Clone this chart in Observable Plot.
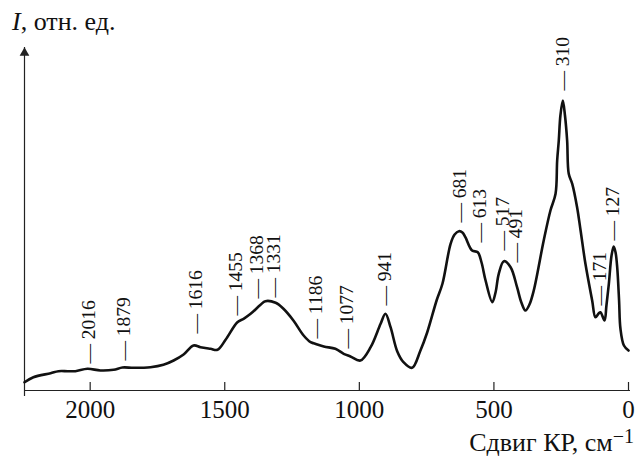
<!DOCTYPE html>
<html><head><meta charset="utf-8">
<script src="https://cdn.jsdelivr.net/npm/d3@7"></script>
<script src="https://cdn.jsdelivr.net/npm/@observablehq/plot@0.6"></script>
<style>body{margin:0;background:#fff;} svg{display:block}</style>
</head><body><div id="chart"></div>
<script>
// Raman shift (cm-1) and relative intensity
const shift = [2244,2211,2147,2118,2084,2055,2010,1962,1913,1880,1839,1776,1728,1690,1653,1616,1590,1553,1527,1497,1453,1430,1404,1367,1349,1311,1282,1245,1207,1181,1170,1132,1089,1058,1033,996,958,921,903,884,859,836,804,773,748,713,691,661,646,630,617,606,581,560,546,531,506,494,482,463,438,414,398,383,368,352,315,290,271,265,259,253,244,236,228,222,209,191,178,160,135,123,111,104,89,82,73,63,55,48,42,35,30,17,0];
const intensity = [8.3,13.3,17.3,19.3,19.3,19.3,21.7,20,20.7,23,22.7,23.3,25.7,30,36,45,43.3,41.7,40.7,50.7,68.3,71.7,76.7,85.7,89.3,87.7,81.7,70,55,48.3,47.3,44,41.7,36.7,34,30,43.3,66.7,76.7,63.3,39,28.3,22.7,40,58,90,107,146.7,156,159.3,158,153.3,140,138.3,128,110,88.3,98,116.7,129.3,123.3,103.3,88,80,86,100,150,180,196.7,230,250,275,290,275,250,216.7,206.7,183.3,160,126.7,90,73.3,77,78.3,70,85,106.7,135,144,138,123.3,90,62,45,40];

// Peak annotations: position on the axis, height of the label base, label text
const peakShift = [2006,1877,1609,1460,1382,1318,1163,1045,905,627,554,469,420,243,107,58];
const peakLevel = [27,30,57,75,92,93,52,42,85,168,148,140,128,300,85,150];
const peakLabels = ["2016","1879","1616","1455","1368","1331","1186","1077","941","681","613","517","491","310","171","127"];

const xTicks = [2000,1500,1000,500,0];
const xDomain = [2244, 0];
const yDomain = [0, 343];
const xTitle = "Сдвиг КР, см";
const xTitleSup = "−1";
const yTitleItalic = "I";
const yTitleRest = ", отн. ед.";

const font = "'Liberation Serif','Times New Roman',serif";
const spectrum = shift.map((s, i) => ({s, v: intensity[i]}));
const peaks = peakShift.map((s, i) => ({s, v: peakLevel[i], t: "— " + peakLabels[i]}));

const chart = Plot.plot({
  width: 636, height: 458,
  marginLeft: 24, marginRight: 8, marginTop: 47, marginBottom: 68,
  style: {fontFamily: font, background: "#fff", color: "#111", overflow: "visible"},
  x: {domain: xDomain, axis: null},
  y: {domain: yDomain, axis: null},
  marks: [
    Plot.ruleY([0], {stroke: "#222", strokeWidth: 1.2, insetRight: -2}),
    Plot.ruleX(xTicks, {x: d => d, y1: 0, y2: 0, insetTop: -8, stroke: "#222", strokeWidth: 1.2}),
    Plot.axisX(xTicks, {anchor: "bottom", tickSize: 0, tickPadding: 10, fontSize: 25, label: null, tickFormat: d => String(d), fill: "#111"}),
    Plot.ruleX([xDomain[0]], {y1: 0, y2: yDomain[1], insetTop: 6, stroke: "#222", strokeWidth: 1.2}),
    Plot.dot([{s: xDomain[0], v: yDomain[1]}], {x: "s", y: "v", symbol: "triangle", r: 3.6, fill: "#222", stroke: null, dy: 5.4}),
    Plot.line(spectrum, {x: "s", y: "v", stroke: "#111", strokeWidth: 2.6, curve: "catmull-rom", strokeLinejoin: "round"}),
    Plot.text(peaks, {x: "s", y: "v", text: "t", rotate: -90, textAnchor: "start", fontSize: 19.5, fill: "#111"})
  ]
});

const svg = d3.select(chart);
const xt = svg.append("text").attr("x", 634).attr("y", 451).attr("text-anchor", "end")
  .attr("font-family", font).attr("font-size", 26).attr("fill", "#111").text(xTitle);
xt.append("tspan").attr("font-size", 20).attr("dy", -8).text(xTitleSup);

const yt = svg.append("text").attr("x", 12).attr("y", 30).attr("text-anchor", "start")
  .attr("font-family", font).attr("font-size", 26).attr("fill", "#111");
yt.append("tspan").attr("font-style", "italic").text(yTitleItalic);
yt.append("tspan").text(yTitleRest);

document.getElementById("chart").appendChild(chart);
</script>
</body></html>
